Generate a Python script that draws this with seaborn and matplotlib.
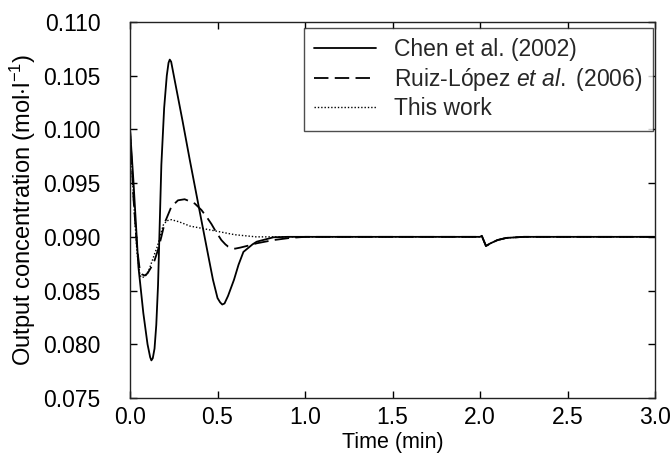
import numpy as np
import pandas as pd
import matplotlib
matplotlib.use("Agg")
import matplotlib.pyplot as plt
import seaborn as sns

# ---- data ----
chen_t = [0, 0.019, 0.048, 0.076, 0.100, 0.115, 0.122, 0.130, 0.140, 0.150, 0.160, 0.179,
          0.195, 0.210, 0.220, 0.227, 0.235, 0.255, 0.300, 0.341, 0.400, 0.450, 0.474,
          0.500, 0.515, 0.527, 0.540, 0.560, 0.594, 0.620, 0.648, 0.700, 0.724, 0.820,
          0.900, 1.0, 2.0, 2.01, 2.034, 2.06, 2.10, 2.15, 2.25, 3.0]
chen_c = [0.1000, 0.0953, 0.0872, 0.0829, 0.0800, 0.0788, 0.0785, 0.0787, 0.0796, 0.0818,
          0.0855, 0.0967, 0.1020, 0.1050, 0.1062, 0.1065, 0.1063, 0.1046, 0.1008, 0.0972,
          0.0922, 0.0880, 0.0860, 0.0843, 0.0839, 0.0837, 0.0838, 0.0845, 0.0860, 0.0874,
          0.0886, 0.0893, 0.08955, 0.08996, 0.0900, 0.0900, 0.0900, 0.0901, 0.08915,
          0.0894, 0.0897, 0.0899, 0.0900, 0.0900]

ruiz_t = [0, 0.02, 0.04, 0.055, 0.07, 0.084, 0.10, 0.122, 0.14, 0.16, 0.179, 0.198, 0.236,
          0.274, 0.312, 0.343, 0.37, 0.408, 0.44, 0.465, 0.49, 0.522, 0.545, 0.56, 0.60,
          0.63, 0.68, 0.724, 0.82, 0.914, 1.0, 2.0, 2.01, 2.034, 2.06, 2.10, 2.15, 2.25, 3.0]
ruiz_c = [0.1000, 0.0935, 0.0890, 0.0870, 0.0865, 0.0864, 0.0866, 0.0872, 0.0878, 0.0888,
          0.0900, 0.0913, 0.0928, 0.0934, 0.0935, 0.0933, 0.0931, 0.0925, 0.0918, 0.0912,
          0.0905, 0.0897, 0.0893, 0.0891, 0.0889, 0.0890, 0.0892, 0.0894, 0.0897, 0.0899,
          0.0900, 0.0900, 0.0901, 0.08915, 0.0894, 0.0897, 0.0899, 0.0900, 0.0900]

this_t = [0, 0.02, 0.04, 0.057, 0.07, 0.09, 0.11, 0.14, 0.156, 0.175, 0.19, 0.21, 0.236,
          0.28, 0.343, 0.408, 0.503, 0.598, 0.72, 0.85, 1.0, 2.0, 2.01, 2.034, 2.06, 2.10,
          2.15, 2.25, 3.0]
this_c = [0.1000, 0.0935, 0.0885, 0.0864, 0.0862, 0.0864, 0.0870, 0.0884, 0.0891, 0.0902,
          0.0911, 0.0915, 0.0916, 0.0914, 0.0910, 0.0908, 0.0905, 0.0902, 0.0900, 0.0900,
          0.0900, 0.0900, 0.0901, 0.08915, 0.0894, 0.0897, 0.0899, 0.0900, 0.0900]

labels = ["Chen et al. (2002)", r"Ruiz-López $\it{et\ al.}$ (2006)", "This work"]
x_ticks = [0.0, 0.5, 1.0, 1.5, 2.0, 2.5, 3.0]
y_ticks = [0.075, 0.080, 0.085, 0.090, 0.095, 0.100, 0.105, 0.110]

# ---- style ----
sns.set_theme(style="ticks")
plt.rcParams["font.family"] = ["Liberation Sans", "DejaVu Sans"]
plt.rcParams["mathtext.fontset"] = "custom"
plt.rcParams["mathtext.rm"] = "Liberation Sans"
plt.rcParams["mathtext.it"] = "Liberation Sans:italic"
plt.rcParams["mathtext.default"] = "regular"

fig = plt.figure(figsize=(6.72, 4.72), dpi=100)
ax = fig.add_axes([0.1935, 0.1568, 0.7812, 0.7966])

series = [(chen_t, chen_c, labels[0]), (ruiz_t, ruiz_c, labels[1]), (this_t, this_c, labels[2])]
styles = [dict(linestyle="-", linewidth=1.3),
          dict(linestyle=(0, (8, 3.5)), linewidth=1.3),
          dict(linestyle=(0, (1, 1.4)), linewidth=1.0)]
for (t, c, lab), st in zip(series, styles):
    df = pd.DataFrame({"t": t, "c": c})
    sns.lineplot(data=df, x="t", y="c", ax=ax, color="black", label=lab, **st)

ax.set_xlim(0, 3.0)
ax.set_ylim(0.075, 0.110)
ax.set_xticks(x_ticks)
ax.set_yticks(y_ticks)
ax.xaxis.set_major_formatter(matplotlib.ticker.FormatStrFormatter("%.1f"))
ax.yaxis.set_major_formatter(matplotlib.ticker.FormatStrFormatter("%.3f"))
ax.tick_params(direction="in", length=5, width=1, top=True, right=True,
               labelsize=16.5, colors="black")
ax.tick_params(axis="y", pad=21)
ax.tick_params(axis="x", pad=6)
for s in ax.spines.values():
    s.set_color("#222222")
    s.set_linewidth(1.0)
    s.set_visible(True)

ax.set_xlabel("Time (min)", fontsize=15.5, color="black", labelpad=2)
ax.set_ylabel(r"Output concentration (mol$\cdot$l$^{-1}$)", fontsize=17,
              color="black", labelpad=4)

leg = ax.legend(loc="upper right", bbox_to_anchor=(0.996, 0.984), borderaxespad=0,
                fontsize=16.5, frameon=True, fancybox=False, edgecolor="#222222",
                handlelength=2.7, handletextpad=0.8, labelspacing=0.2,
                borderpad=0.45)
leg.get_frame().set_linewidth(1.0)

fig.savefig("out.png", dpi=100)
